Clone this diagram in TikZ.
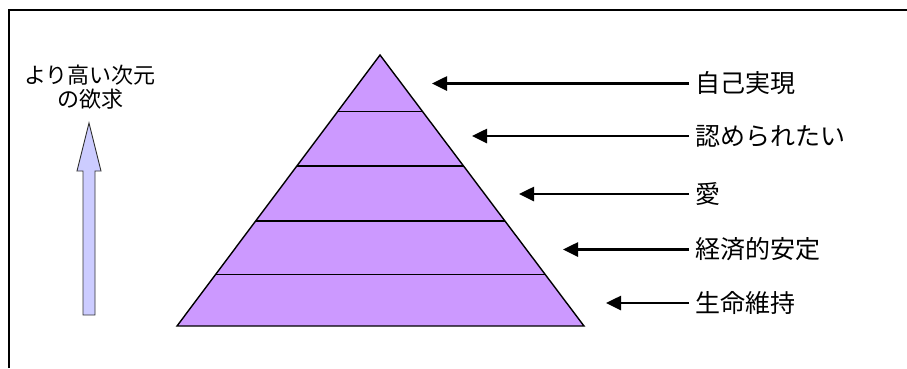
\documentclass[tikz,border=0pt]{standalone}
\usepackage{fontspec}
\newfontfamily\jp{Noto Sans CJK JP}
\usetikzlibrary{calc,arrows.meta}
\definecolor{pyr}{HTML}{CC99FF}
\definecolor{blk}{HTML}{CCCCFF}
\tikzset{
  lbl/.style={anchor=west,inner xsep=6pt,inner ysep=0pt,font=\jp\fontsize{25}{28}\selectfont},
  pointer/.style={line width=2.6pt,-{Triangle[length=15pt,width=14pt]}},
  layer/.style={line width=1.4pt}
}
\begin{document}
\begin{tikzpicture}[x=1pt,y=-1pt]
\useasboundingbox (0,0) rectangle (907,368);
% frame (left and top edges)
\draw[line width=1.2pt] (9,368) -- (9,10) -- (907,10);
% pyramid
\coordinate (apex) at (380,55);
\coordinate (bl) at (177,326);
\coordinate (br) at (584,326);
\filldraw[fill=pyr,draw=black,line width=1.4pt,line join=miter] (apex) -- (br) -- (bl) -- cycle;
\foreach \t [count=\i] in {0.209,0.41,0.613,0.811}{
  \draw[layer] ($(apex)!\t!(bl)$) coordinate (L\i) -- ($(apex)!\t!(br)$) coordinate (R\i);
}
% labels
\node[lbl] (t1) at (689,83.5) {自己実現};
\node[lbl] (t2) at (689,136) {認められたい};
\node[lbl] (t3) at (689,194) {愛};
\node[lbl] (t4) at (689,249.5) {経済的安定};
\node[lbl] (t5) at (689,303) {生命維持};
\coordinate (p1) at (432,83.5);
\coordinate (p2) at (472,136);
\coordinate (p3) at (519,194);
\coordinate (p4) at (563,249.5);
\coordinate (p5) at (606,303);
\foreach \i in {1,...,5}{\draw[pointer] (t\i.west) -- (p\i);}
% left label
\node[font=\jp\fontsize{22}{24}\selectfont,align=center,inner sep=0pt] (up) at (90,87) {より高い次元\\の欲求};
% block arrow
\filldraw[fill=blk,draw=black!80,line width=0.9pt,line join=miter]
  (89,123) -- (101,171) -- (95,171) -- (95,315) -- (83,315) -- (83,171) -- (77,171) -- cycle;
\end{tikzpicture}
\end{document}
